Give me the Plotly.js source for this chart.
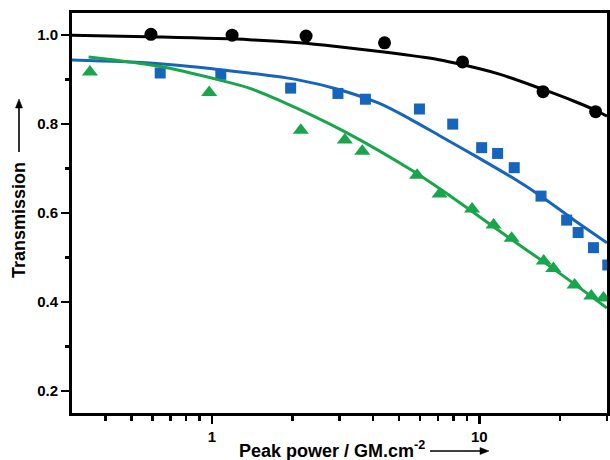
<!DOCTYPE html>
<html>
<head>
<meta charset="utf-8">
<script src="https://cdn.plot.ly/plotly-3.0.1.min.js"></script>
<style>html,body{margin:0;padding:0;background:#fff;}#chart{width:610px;height:460px;}</style>
</head>
<body>
<div id="chart"></div>
<script>
// Measured points (peak power in GM.cm^-2, transmission)
const blackX = [0.592, 1.19, 2.25, 4.42, 8.65, 17.3, 27.2];
const blackY = [1.002, 1.000, 0.998, 0.983, 0.940, 0.873, 0.828];

const blueX = [0.641, 1.08, 1.97, 2.96, 3.75, 5.97, 7.95, 10.2, 11.7, 13.5, 17.0, 21.2, 23.4, 26.7, 30.2];
const blueY = [0.915, 0.912, 0.881, 0.869, 0.856, 0.834, 0.800, 0.747, 0.734, 0.702, 0.638, 0.584, 0.556, 0.522, 0.483];

const greenX = [0.350, 0.977, 2.15, 3.14, 3.65, 5.85, 7.1, 9.39, 11.3, 13.2, 17.4, 18.9, 22.7, 26.2, 29.1];
const greenY = [0.917, 0.871, 0.786, 0.764, 0.739, 0.685, 0.643, 0.609, 0.573, 0.543, 0.492, 0.475, 0.438, 0.413, 0.409];

// Fitted curves
const blackFitX = [0.3, 0.637, 1.378, 2.12, 2.98, 4.40, 7.05, 8.6, 11.8, 17.3, 22.5, 27.2, 30];
const blackFitY = [1.000, 0.996, 0.990, 0.983, 0.974, 0.962, 0.945, 0.934, 0.913, 0.878, 0.852, 0.831, 0.818];

const blueFitX = [0.3, 0.637, 1.378, 2.12, 2.98, 4.21, 5.45, 7.05, 10.2, 13.5, 16.9, 22.5, 30];
const blueFitY = [0.944, 0.936, 0.915, 0.899, 0.878, 0.847, 0.813, 0.775, 0.720, 0.677, 0.639, 0.585, 0.533];

const greenFitX = [0.346, 0.636, 1.07, 1.38, 1.78, 3.16, 5.59, 7.05, 12.86, 17.4, 22.7, 30];
const greenFitY = [0.951, 0.930, 0.899, 0.881, 0.854, 0.782, 0.696, 0.656, 0.545, 0.490, 0.440, 0.386];

const xTickVals = [1, 10];
const xTickText = ['1', '10'];
const xMinorVals = [0.4, 0.5, 0.6, 0.7, 0.8, 0.9, 2, 3, 4, 5, 6, 7, 8, 9, 20, 30];
const yTickVals = [0.2, 0.4, 0.6, 0.8, 1.0];
const yTickText = ['0.2', '0.4', '0.6', '0.8', '1.0'];
const yMinorVals = [0.3, 0.5, 0.7, 0.9];

const BLACK = '#000000', BLUE = '#1664bb', GREEN = '#18a54c';

const traces = [
  {x: blackFitX, y: blackFitY, mode: 'lines', line: {color: BLACK, width: 3, shape: 'spline', smoothing: 0.8}},
  {x: blackX, y: blackY, mode: 'markers', marker: {symbol: 'circle', size: 13, color: BLACK}},
  {x: blueFitX, y: blueFitY, mode: 'lines', line: {color: BLUE, width: 3, shape: 'spline', smoothing: 0.8}},
  {x: blueX, y: blueY, mode: 'markers', marker: {symbol: 'square', size: 11, color: BLUE}},
  {x: greenFitX, y: greenFitY, mode: 'lines', line: {color: GREEN, width: 3, shape: 'spline', smoothing: 0.8}},
  {x: greenX, y: greenY, mode: 'markers', marker: {symbol: 'triangle-up', size: 14, color: GREEN}}
];

const tickFont = {family: 'Liberation Sans, Arial, sans-serif', size: 15, color: '#000', weight: 'bold'};
const titleFont = {family: 'Liberation Sans, Arial, sans-serif', size: 18, color: '#000', weight: 'bold'};

// paper-coordinate helpers for the plot area (72..607 px wide, 13..413 px tall)
const px = v => (v - 72) / 535;
const py = v => (413 - v) / 400;

const layout = {
  width: 610, height: 460,
  margin: {l: 72, r: 3, t: 13, b: 47},
  paper_bgcolor: '#fff', plot_bgcolor: '#fff',
  showlegend: false,
  xaxis: {
    type: 'log', range: [Math.log10(0.3), Math.log10(30)],
    tickmode: 'array', tickvals: xTickVals, ticktext: xTickText,
    ticks: 'outside', ticklen: 8, tickwidth: 2.5, tickcolor: '#000',
    minor: {tickmode: 'array', tickvals: xMinorVals, ticks: 'outside', ticklen: 5, tickwidth: 2.5, tickcolor: '#000', showgrid: false},
    showline: true, linewidth: 3, linecolor: '#000', mirror: true,
    showgrid: false, zeroline: false, tickfont: tickFont
  },
  yaxis: {
    range: [0.15, 1.05],
    tickmode: 'array', tickvals: yTickVals, ticktext: yTickText,
    ticks: 'outside', ticklen: 8, tickwidth: 2.5, tickcolor: '#000',
    minor: {tickmode: 'array', tickvals: yMinorVals, ticks: 'outside', ticklen: 4, tickwidth: 2.5, tickcolor: '#000', showgrid: false},
    showline: true, linewidth: 3, linecolor: '#000', mirror: true,
    showgrid: false, zeroline: false, tickfont: tickFont
  },
  annotations: [
    {xref: 'paper', yref: 'paper', x: px(332), y: py(449), text: 'Peak power / GM.cm<sup>-2</sup>', showarrow: false, font: titleFont, xanchor: 'center', yanchor: 'middle'},
    {xref: 'paper', yref: 'paper', x: px(19), y: py(220), text: 'Transmission', textangle: -90, showarrow: false, font: titleFont, xanchor: 'center', yanchor: 'middle'}
  ],
  shapes: [
    // x-title arrow
    {type: 'line', xref: 'paper', yref: 'paper', x0: px(430), x1: px(482), y0: py(451), y1: py(451), line: {color: '#000', width: 1.6}},
    {type: 'path', xref: 'paper', yref: 'paper', path: `M ${px(489)} ${py(451)} L ${px(480)} ${py(447.5)} L ${px(480)} ${py(454.5)} Z`, fillcolor: '#000', line: {color: '#000', width: 0.5}},
    // y-title arrow
    {type: 'line', xref: 'paper', yref: 'paper', x0: px(19), x1: px(19), y0: py(152), y1: py(106), line: {color: '#000', width: 1.6}},
    {type: 'path', xref: 'paper', yref: 'paper', path: `M ${px(19)} ${py(99)} L ${px(15.5)} ${py(108)} L ${px(22.5)} ${py(108)} Z`, fillcolor: '#000', line: {color: '#000', width: 0.5}}
  ]
};

Plotly.newPlot('chart', traces, layout, {displayModeBar: false, staticPlot: true});
</script>
</body>
</html>
